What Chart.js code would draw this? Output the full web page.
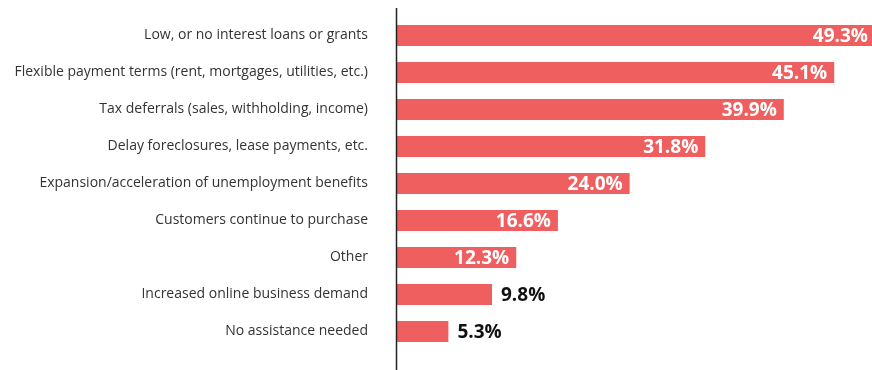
<!DOCTYPE html>
<html>
<head>
<meta charset="utf-8">
<script src="https://cdn.jsdelivr.net/npm/chart.js@4/dist/chart.umd.min.js"></script>
<style>
  html, body { margin: 0; padding: 0; background: #fff; }
  #wrap { width: 872px; height: 370px; position: relative; }
</style>
</head>
<body>
<div id="wrap"><canvas id="assistChart"></canvas></div>
<script>
const categories = [
    'Low, or no interest loans or grants',
    'Flexible payment terms (rent, mortgages, utilities, etc.)',
    'Tax deferrals (sales, withholding, income)',
    'Delay foreclosures, lease payments, etc.',
    'Expansion/acceleration of unemployment benefits',
    'Customers continue to purchase',
    'Other',
    'Increased online business demand',
    'No assistance needed'
];
const percents = [49.3, 45.1, 39.9, 31.8, 24.0, 16.6, 12.3, 9.8, 5.3];

const barColor = 'rgb(240, 95, 95)';
const labelFont = 'bold 19px "Open Sans", sans-serif';

// value labels: white inside the bar end, black just past short bars
const valueLabels = {
    id: 'valueLabels',
    afterDatasetsDraw(chart) {
        const ctx = chart.ctx;
        const meta = chart.getDatasetMeta(0);
        const right = chart.chartArea.right;
        ctx.save();
        ctx.font = labelFont;
        ctx.textBaseline = 'middle';
        meta.data.forEach((bar, i) => {
            const text = percents[i].toFixed(1) + '%';
            const end = Math.min(bar.x, right + 3);
            if (percents[i] >= 12) {
                ctx.fillStyle = '#fff';
                ctx.textAlign = 'right';
                ctx.fillText(text, end - 7, bar.y + 1);
            } else {
                ctx.fillStyle = '#111';
                ctx.textAlign = 'left';
                ctx.fillText(text, bar.x + 9, bar.y + 1);
            }
        });
        ctx.restore();
    }
};

// the vertical axis line runs past the bars, top to bottom
const axisLine = {
    id: 'axisLine',
    afterDraw(chart) {
        const ctx = chart.ctx;
        const x = chart.chartArea.left - 0.5;
        ctx.save();
        ctx.strokeStyle = '#222';
        ctx.lineWidth = 1.5;
        ctx.beginPath();
        ctx.moveTo(x, 8);
        ctx.lineTo(x, chart.height);
        ctx.stroke();
        ctx.restore();
    }
};

new Chart(document.getElementById('assistChart'), {
    type: 'bar',
    data: {
        labels: categories,
        datasets: [{
            data: percents,
            backgroundColor: barColor,
            borderWidth: 0,
            barPercentage: 0.57,
            categoryPercentage: 1.0
        }]
    },
    options: {
        indexAxis: 'y',
        responsive: true,
        maintainAspectRatio: false,
        animation: false,
        layout: { padding: { top: 17, bottom: 20, left: 0, right: 0 } },
        plugins: {
            legend: { display: false },
            tooltip: { enabled: false }
        },
        scales: {
            x: {
                display: false,
                min: 0,
                max: 49
            },
            y: {
                grid: { display: false, drawTicks: false },
                border: { display: false },
                ticks: {
                    color: '#333',
                    padding: 29,
                    font: { family: '"Open Sans", sans-serif', size: 14 }
                },
                afterFit(scale) {
                    // tick padding would otherwise also pad top and bottom
                    scale.width = 397;
                    scale.paddingTop = 0;
                    scale.paddingBottom = 0;
                }
            }
        }
    },
    plugins: [valueLabels, axisLine]
});
</script>
</body>
</html>
